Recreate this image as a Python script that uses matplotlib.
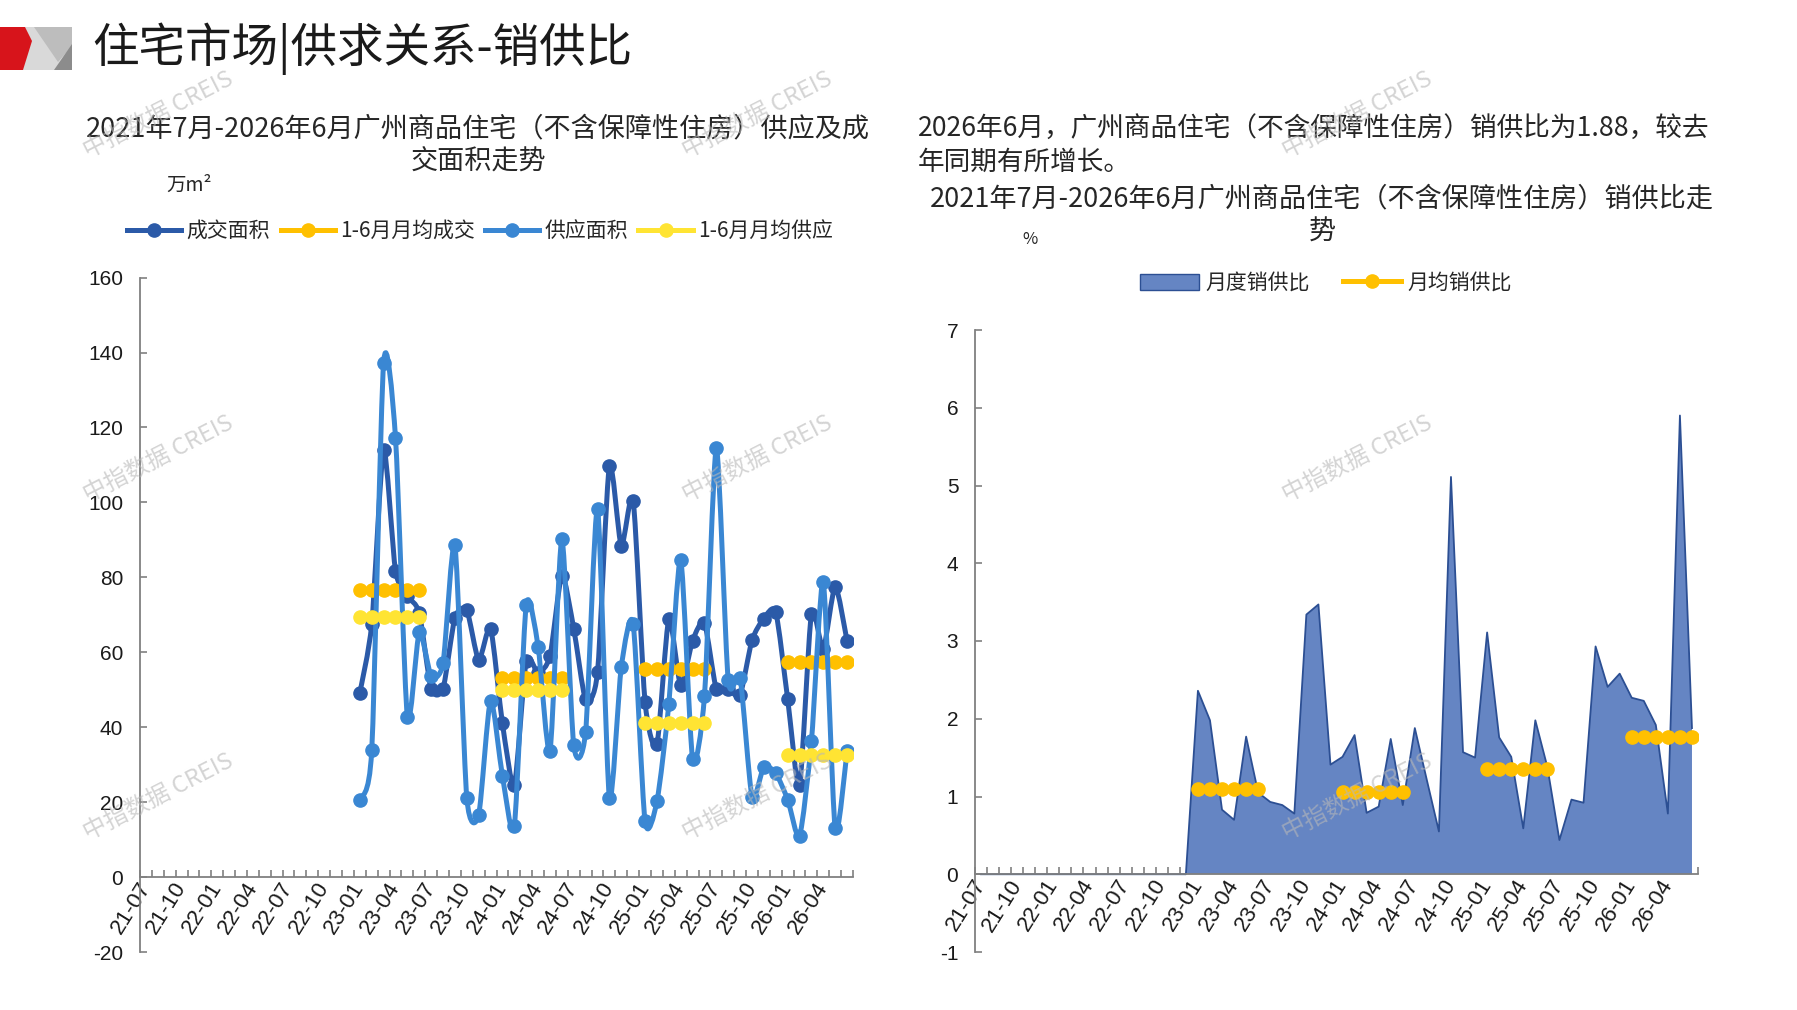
import numpy as np
import matplotlib
matplotlib.use("Agg")
import matplotlib.pyplot as plt
from matplotlib.path import Path
from matplotlib.patches import PathPatch, Polygon, Patch
from matplotlib.lines import Line2D

plt.rcParams['font.family'] = ['Noto Sans CJK SC', 'DejaVu Sans']
plt.rcParams['axes.unicode_minus'] = False

# ---------------- data ----------------
months = ['21-07', '21-08', '21-09', '21-10', '21-11', '21-12',
          '22-01', '22-02', '22-03', '22-04', '22-05', '22-06',
          '22-07', '22-08', '22-09', '22-10', '22-11', '22-12',
          '23-01', '23-02', '23-03', '23-04', '23-05', '23-06',
          '23-07', '23-08', '23-09', '23-10', '23-11', '23-12',
          '24-01', '24-02', '24-03', '24-04', '24-05', '24-06',
          '24-07', '24-08', '24-09', '24-10', '24-11', '24-12',
          '25-01', '25-02', '25-03', '25-04', '25-05', '25-06',
          '25-07', '25-08', '25-09', '25-10', '25-11', '25-12',
          '26-01', '26-02', '26-03', '26-04', '26-05', '26-06']
tick_labels = ['21-07', '21-10', '22-01', '22-04', '22-07', '22-10', '23-01',
               '23-04', '23-07', '23-10', '24-01', '24-04', '24-07', '24-10',
               '25-01', '25-04', '25-07', '25-10', '26-01', '26-04']
data_start = '23-01'

# 成交面积 (万m²), 2023-01 .. 2026-06
deal = [49.2, 67.5, 114.0, 81.8, 75.0, 70.5,
        50.3, 50.3, 69.2, 71.2, 58.0, 66.3,
        41.0, 24.6, 57.6, 54.5, 59.0, 80.4,
        66.3, 47.4, 54.7, 109.8, 88.4, 100.5,
        46.8, 35.4, 68.8, 51.2, 63.1, 67.8,
        50.2, 50.2, 48.7, 63.2, 69.0, 70.7,
        47.6, 24.6, 70.2, 61.0, 77.5, 63.0]
# 供应面积 (万m²), 2023-01 .. 2026-06
supply = [20.7, 33.8, 137.2, 117.3, 42.7, 65.3,
          53.7, 57.1, 88.6, 21.2, 16.6, 47.1,
          27.0, 13.6, 72.6, 61.5, 33.6, 90.1,
          35.2, 38.8, 98.3, 21.2, 56.0, 67.6,
          14.9, 20.2, 46.1, 84.7, 31.6, 48.3,
          114.5, 52.6, 53.1, 21.5, 29.4, 27.7,
          20.7, 11.0, 36.2, 78.7, 13.0, 33.6]
# 1-6月月均 (per year 2023..2026), shown on Jan..Jun of each year
avg_years_start = ['23-01', '24-01', '25-01', '26-01']
avg_deal = [76.5, 53.0, 55.5, 57.5]
avg_supply = [69.5, 50.0, 41.0, 32.5]
# 月度销供比, 2021-07 .. 2026-06
ratio = [0, 0, 0, 0, 0, 0, 0, 0, 0, 0, 0, 0, 0, 0, 0, 0, 0, 0,
         2.36, 1.98, 0.83, 0.70, 1.77, 1.05,
         0.93, 0.89, 0.78, 3.34, 3.47, 1.41,
         1.51, 1.79, 0.79, 0.87, 1.74, 0.89,
         1.88, 1.21, 0.55, 5.11, 1.57, 1.50,
         3.11, 1.76, 1.51, 0.59, 1.98, 1.38,
         0.44, 0.96, 0.92, 2.93, 2.41, 2.58,
         2.27, 2.23, 1.92, 0.78, 5.90, 1.88]
avg_ratio = [1.10, 1.06, 1.35, 1.77]

# ---------------- styles ----------------
C_DEAL = '#2B5AA8'
C_SUP = '#3A87D3'
C_AVGD = '#FFC000'
C_AVGS = '#FFE433'
C_AREA = '#6585C3'
C_AREA_E = '#2C4F93'
C_AX = '#808080'
LW = 3.6
MS = 9.5
W, H = 1797, 1010
TICKFONT = ['Liberation Sans', 'DejaVu Sans']
TENSION = 1.0 / 8.5

fig = plt.figure(figsize=(W / 100, H / 100), dpi=100)


def fx(px):
    return px / W


def fy(py):
    return 1 - py / H


def smooth_path(x, y):
    pts = np.column_stack([x, y])
    verts = [pts[0]]
    codes = [Path.MOVETO]
    n = len(pts)
    for k in range(n - 1):
        p0 = pts[k - 1] if k > 0 else pts[k]
        p1 = pts[k]
        p2 = pts[k + 1]
        p3 = pts[k + 2] if k + 2 < n else pts[k + 1]
        verts += [p1 + (p2 - p0) * TENSION, p2 - (p3 - p1) * TENSION, p2]
        codes += [Path.CURVE4] * 3
    return Path(verts, codes)


# ---------------- header ----------------
logo_ax = fig.add_axes([0, 0, 1, 1], zorder=-5)
logo_ax.set_xlim(0, W)
logo_ax.set_ylim(H, 0)
logo_ax.axis('off')
logo_ax.add_patch(Polygon([(23, 27), (72, 27), (72, 70), (23, 70)], closed=True,
                          facecolor='#D9D9D9', edgecolor='none'))
logo_ax.add_patch(Polygon([(34, 27), (72, 27), (72, 46), (58, 62)], closed=True,
                          facecolor='#BDBDBD', edgecolor='none'))
logo_ax.add_patch(Polygon([(72, 44), (72, 70), (54, 70)], closed=True,
                          facecolor='#8C8C8C', edgecolor='none'))
logo_ax.add_patch(Polygon([(0, 27), (25, 27), (32, 41), (23, 70), (0, 70)], closed=True,
                          facecolor='#D7141B', edgecolor='none'))

fig.text(fx(92), fy(49), '住宅市场|供求关系-销供比', fontsize=33.5, ha='left', va='center',
         color='#1a1a1a')

# left title
fig.text(fx(478), fy(129), '2021年7月-2026年6月广州商品住宅（不含保障性住房）供应及成',
         fontsize=19.5, ha='center', va='center', color='#262626')
fig.text(fx(478), fy(162), '交面积走势', fontsize=19.5, ha='center', va='center', color='#262626')
fig.text(fx(166), fy(185), '万m²', fontsize=14, ha='left', va='center', color='#262626')

# right texts
fig.text(fx(918), fy(129), '2026年6月，广州商品住宅（不含保障性住房）销供比为1.88，较去',
         fontsize=19.2, ha='left', va='center', color='#262626')
fig.text(fx(918), fy(162), '年同期有所增长。', fontsize=19.2, ha='left', va='center', color='#262626')
fig.text(fx(1322), fy(199), '2021年7月-2026年6月广州商品住宅（不含保障性住房）销供比走',
         fontsize=19.5, ha='center', va='center', color='#262626')
fig.text(fx(1322), fy(232), '势', fontsize=19.5, ha='center', va='center', color='#262626')
fig.text(fx(1030), fy(239), '%', fontsize=12, ha='center', va='center', color='#262626')


def style_axes(ax, yticks):
    ax.set_xlim(0, len(months))
    for s in ['top', 'right']:
        ax.spines[s].set_visible(False)
    ax.spines['bottom'].set_position(('data', 0))
    for s in ['bottom', 'left']:
        ax.spines[s].set_color(C_AX)
        ax.spines[s].set_linewidth(1.3)
    ax.set_xticks(np.arange(0, len(months) + 1))
    ax.set_xticklabels([])
    centers = [months.index(t) + 0.5 for t in tick_labels]
    ax.set_xticks(centers, minor=True)
    ax.set_xticklabels(tick_labels, minor=True)
    ax.tick_params(axis='x', which='major', direction='in', length=5, width=1.2, color=C_AX)
    ax.tick_params(axis='x', which='minor', length=0, pad=5, labelsize=16,
                   labelrotation=58, labelfontfamily=TICKFONT, labelcolor='#1a1a1a')
    for lab in ax.get_xticklabels(minor=True):
        lab.set_ha('right')
        lab.set_va('center')
        lab.set_rotation_mode('anchor')
    ax.set_yticks(yticks)
    ax.tick_params(axis='y', direction='in', length=5, width=1.2, color=C_AX, pad=12,
                   labelsize=15, labelfontfamily=TICKFONT, labelcolor='#1a1a1a')
    ax.patch.set_alpha(0)


# ---------------- left chart ----------------
ax1 = fig.add_axes([fx(140), fy(952), fx(853 - 140), (952 - 277.6) / H])
ax1.set_ylim(-20, 160)
style_axes(ax1, np.arange(-20, 161, 20))

s0 = months.index(data_start)
xs = np.arange(s0, s0 + len(deal)) + 0.5
ax1.add_patch(PathPatch(smooth_path(xs, np.array(deal)), fill=False, edgecolor=C_DEAL,
                        lw=LW, capstyle='round', joinstyle='round', zorder=3))
ax1.plot(xs, deal, 'o', color=C_DEAL, ms=MS, zorder=3.1)

for st, v in zip(avg_years_start, avg_deal):
    i0 = months.index(st)
    xa = np.arange(i0, i0 + 6) + 0.5
    ax1.plot(xa, [v] * 6, '-o', color=C_AVGD, lw=LW, ms=MS, zorder=4)

ax1.add_patch(PathPatch(smooth_path(xs, np.array(supply)), fill=False, edgecolor=C_SUP,
                        lw=LW, capstyle='round', joinstyle='round', zorder=5))
ax1.plot(xs, supply, 'o', color=C_SUP, ms=MS, zorder=5.1)

for st, v in zip(avg_years_start, avg_supply):
    i0 = months.index(st)
    xa = np.arange(i0, i0 + 6) + 0.5
    ax1.plot(xa, [v] * 6, '-o', color=C_AVGS, lw=LW, ms=MS, zorder=6)

h1 = [Line2D([], [], color=c, lw=LW, marker='o', ms=MS) for c in [C_DEAL, C_AVGD, C_SUP, C_AVGS]]
fig.legend(h1, ['成交面积', '1-6月月均成交', '供应面积', '1-6月月均供应'], loc='center',
           bbox_to_anchor=(fx(480), fy(231)), ncol=4, frameon=False, fontsize=15,
           handlelength=2.6, handletextpad=0.25, columnspacing=0.5, labelcolor='#262626')

# ---------------- right chart ----------------
ax2 = fig.add_axes([fx(975), fy(952), fx(1698 - 975), (952 - 330) / H])
ax2.set_ylim(-1, 7)
style_axes(ax2, np.arange(-1, 8, 1))
xr = np.arange(len(months)) + 0.5
ax2.fill_between(xr, 0, ratio, facecolor=C_AREA, edgecolor='none', zorder=2)
ax2.plot(xr, ratio, color=C_AREA_E, lw=1.3, zorder=2.5)
for st, v in zip(avg_years_start, avg_ratio):
    i0 = months.index(st)
    xa = np.arange(i0, i0 + 6) + 0.5
    ax2.plot(xa, [v] * 6, '-o', color=C_AVGD, lw=LW, ms=MS, zorder=4)

h2 = [Patch(facecolor=C_AREA, edgecolor=C_AREA_E, lw=1.0),
      Line2D([], [], color=C_AVGD, lw=LW, marker='o', ms=MS)]
fig.legend(h2, ['月度销供比', '月均销供比'], loc='center', bbox_to_anchor=(fx(1326), fy(283)),
           ncol=2, frameon=False, fontsize=15, handlelength=2.8, handleheight=0.8,
           handletextpad=0.3, columnspacing=1.6, labelcolor='#262626')

# ---------------- watermarks ----------------
for wx in [158, 757, 1357]:
    for wy in [115, 459, 797]:
        fig.text(fx(wx), fy(wy), '中指数据 CREIS', fontsize=17, rotation=27, ha='center',
                 va='center', color='#B8B8B8', alpha=0.6, zorder=20)

fig.savefig('out.png', dpi=100)
